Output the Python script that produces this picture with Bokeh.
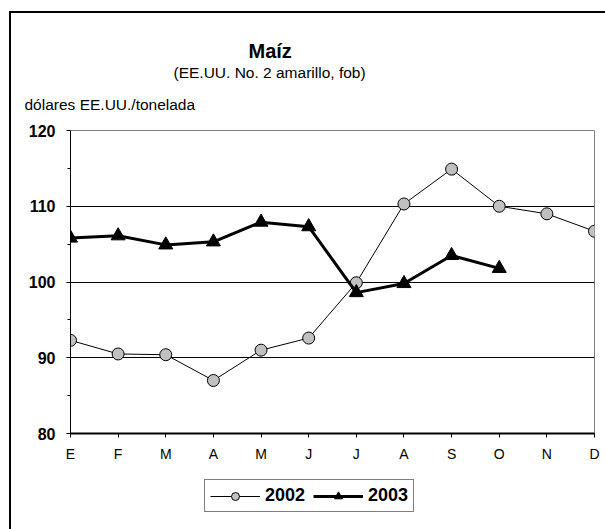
from bokeh.plotting import figure
from bokeh.layouts import column
from bokeh.models import (FixedTicker, Title, Legend, LegendItem, Range1d)
from bokeh.embed import file_html
from bokeh.resources import INLINE

# ---- data ----
months = ["E", "F", "M", "A", "M", "J", "J", "A", "S", "O", "N", "D"]
month_idx = list(range(len(months)))
y2002 = [92.3, 90.5, 90.4, 87.0, 91.0, 92.6, 99.9, 110.3, 114.9, 110.0, 109.0, 106.7]
y2003 = [105.8, 106.1, 104.9, 105.3, 107.9, 107.3, 98.6, 99.8, 103.5, 101.8]
x2003 = month_idx[:len(y2003)]
y_ticks = [80, 90, 100, 110, 120]
y_minor = [85, 95, 105, 115]
grid_ticks = [90, 100, 110, 120]
title_text = "Maíz"
subtitle_text = "(EE.UU. No. 2 amarillo, fob)"
unit_text = "dólares EE.UU./tonelada"
series_names = ["2002", "2003"]

FONT = "Liberation Sans"

STYLE_2002 = dict(line_color="black", line_width=1)
MARK_2002 = dict(marker="circle", size=12, fill_color="#c0c0c0", line_color="black", line_width=1)
STYLE_2003 = dict(line_color="black", line_width=3)
MARK_2003 = dict(marker="triangle", size=14, fill_color="black", line_color="black", line_width=1)

p = figure(width=594, height=458,
           x_range=Range1d(0, 11), y_range=Range1d(80, 120),
           output_backend="svg", toolbar_location=None,
           min_border_left=59, min_border_right=11,
           min_border_top=117, min_border_bottom=38)
p.background_fill_color = "white"
p.border_fill_color = "white"
p.outline_line_color = "#808080"
p.outline_line_width = 1

# axes
xa = p.xaxis[0]
xa.ticker = FixedTicker(ticks=month_idx)
xa.major_label_overrides = {i: m for i, m in zip(month_idx, months)}
xa.axis_line_color = "black"
xa.axis_line_width = 2
xa.major_tick_in = 0
xa.major_tick_out = 4
xa.minor_tick_line_color = None
xa.major_label_text_font = FONT
xa.major_label_text_font_size = "14px"
xa.major_label_text_color = "black"
xa.major_label_standoff = 8

ya = p.yaxis[0]
ya.ticker = FixedTicker(ticks=y_ticks, minor_ticks=y_minor)
ya.axis_line_color = "black"
ya.axis_line_width = 1
ya.major_tick_in = 0
ya.major_tick_out = 4
ya.minor_tick_in = 0
ya.minor_tick_out = 3
ya.major_label_text_font = FONT
ya.major_label_text_font_size = "16px"
ya.major_label_text_font_style = "bold"
ya.major_label_text_color = "black"
ya.major_label_standoff = 11

p.xgrid.visible = False
p.ygrid.ticker = FixedTicker(ticks=grid_ticks)
p.ygrid.grid_line_color = "black"
p.ygrid.grid_line_alpha = 1
p.ygrid.grid_line_width = 1

# series
p.line(month_idx, y2002, **STYLE_2002)
p.scatter(month_idx, y2002, **MARK_2002)
p.line(x2003, y2003, **STYLE_2003)
p.scatter(x2003, y2003, **MARK_2003)

# texts (closest to frame first)
p.add_layout(Title(text=unit_text, align="left", offset=-46, standoff=31,
                   vertical_align="top", text_color="black",
                   text_font=FONT, text_font_size="15.5px", text_font_style="normal"), "above")
p.add_layout(Title(text=subtitle_text, align="left", offset=103, standoff=0,
                   text_color="black",
                   text_font=FONT, text_font_size="15.5px", text_font_style="normal"), "above")
p.add_layout(Title(text=title_text, align="left", offset=178, standoff=0,
                   text_color="black",
                   text_font=FONT, text_font_size="20px", text_font_style="bold"), "above")

# legend strip below the chart (its series sit outside the strip's visible range)
lg = figure(width=594, height=58, x_range=Range1d(0, 11), y_range=Range1d(0, 1),
            x_axis_type=None, y_axis_type=None,
            output_backend="svg", toolbar_location=None,
            min_border_left=0, min_border_right=0, min_border_top=0, min_border_bottom=0)
lg.outline_line_color = None
lg.background_fill_color = "white"
lg.border_fill_color = "white"
lr1 = lg.line(month_idx, y2002, **STYLE_2002)
ls1 = lg.scatter(month_idx, y2002, **MARK_2002)
lr2 = lg.line(x2003, y2003, **STYLE_2003)
ls2 = lg.scatter(x2003, y2003, **MARK_2003)

legend = Legend(items=[LegendItem(label=series_names[0], renderers=[lr1, ls1]),
                       LegendItem(label=series_names[1], renderers=[lr2, ls2])],
                orientation="horizontal", location=(134, 17),
                border_line_color="black", border_line_width=1,
                label_text_font=FONT, label_text_font_size="18px",
                label_text_font_style="bold", label_text_color="black",
                glyph_width=50, glyph_height=20, padding=5, spacing=8,
                label_standoff=5, margin=0, background_fill_alpha=1)
lg.add_layout(legend, "center")

page = column(p, lg, spacing=0,
              styles={"margin-left": "9px", "margin-top": "11px",
                      "border-left": "2px solid black",
                      "border-top": "2px solid black"})

open("out.html", "w").write(file_html(page, INLINE))
